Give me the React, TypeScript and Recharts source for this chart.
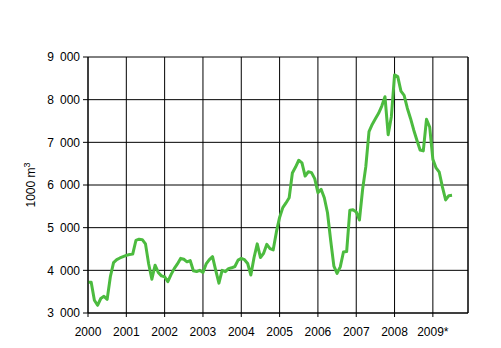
import React from 'react';
import { LineChart, Line, XAxis, YAxis, CartesianGrid, ReferenceLine } from 'recharts';

const yearLabels = ['2000', '2001', '2002', '2003', '2004', '2005', '2006', '2007', '2008', '2009*'];
const yearTicks = [0, 12, 24, 36, 48, 60, 72, 84, 96, 108];
const yTicks = [3000, 4000, 5000, 6000, 7000, 8000, 9000];
const values = [
  3720, 3720, 3300, 3180, 3340, 3390, 3320, 3850, 4180, 4250, 4290, 4320,
  4350, 4370, 4380, 4700, 4730, 4720, 4620, 4150, 3790, 4120, 3950, 3870,
  3850, 3735, 3900, 4040, 4150, 4280, 4260, 4200, 4230, 3990, 3970, 4000,
  3950, 4150, 4250, 4320, 4000, 3700, 4000, 3970, 4040, 4060, 4090, 4240,
  4280, 4250, 4160, 3890, 4300, 4620, 4300, 4400, 4610, 4510, 4480, 4900,
  5240, 5470, 5580, 5700, 6280, 6420, 6580, 6520, 6210, 6310, 6290, 6150,
  5820, 5900, 5700, 5350, 4700, 4100, 3930, 4080, 4430, 4440, 5410, 5420,
  5370, 5180, 5900, 6430, 7250, 7420, 7550, 7680, 7850, 8070, 7180, 7600,
  8580, 8540, 8200, 8100, 7800, 7560, 7290, 7050, 6820, 6800, 7540, 7360,
  6600, 6400, 6300, 5950, 5650, 5750, 5760,
];

const data = values.map((v, i) => ({ m: i, v }));

const font = '"Liberation Sans", Arial, sans-serif';

const fmtY = (v: number) => {
  const s = String(v);
  return s.slice(0, s.length - 3) + '\u2002' + s.slice(-3);
};
const fmtX = (v: number) => yearLabels[yearTicks.indexOf(v)] ?? '';

const YTitle = () => (
  <text
    x={35}
    y={185}
    transform="rotate(-90, 35, 185)"
    textAnchor="middle"
    fontFamily={font}
    fontSize={12}
    fill="#000"
  >
    1000 m
    <tspan dy={-5} fontSize={9}>3</tspan>
  </text>
);

export default function App() {
  return (
    <div style={{ position: 'absolute', left: 0, top: 0, background: '#fff' }}>
      <LineChart
        width={501}
        height={348}
        data={data}
        margin={{ top: 57, right: 33, bottom: 0, left: 0 }}
      >
        <CartesianGrid stroke="#000" strokeWidth={1} />
        <XAxis
          dataKey="m"
          type="number"
          domain={[0, 119]}
          ticks={yearTicks}
          tickFormatter={fmtX}
          height={35}
          tickSize={4}
          tickMargin={10}
          axisLine={{ stroke: '#000' }}
          tickLine={{ stroke: '#000' }}
          tick={{ fill: '#000', fontSize: 12, fontFamily: font }}
          interval={0}
        />
        <YAxis
          type="number"
          domain={[3000, 9000]}
          ticks={yTicks}
          tickFormatter={fmtY}
          width={88}
          tickSize={5}
          tickMargin={3}
          axisLine={{ stroke: '#000' }}
          tickLine={{ stroke: '#000' }}
          tick={{ fill: '#000', fontSize: 12, fontFamily: font }}
          interval={0}
        />
        <ReferenceLine x={119} stroke="#000" strokeWidth={1} ifOverflow="visible" />
        <Line
          type="linear"
          dataKey="v"
          stroke="#4CBB3F"
          strokeWidth={3}
          dot={false}
          isAnimationActive={false}
          strokeLinejoin="round"
        />
        <YTitle />
      </LineChart>
    </div>
  );
}
